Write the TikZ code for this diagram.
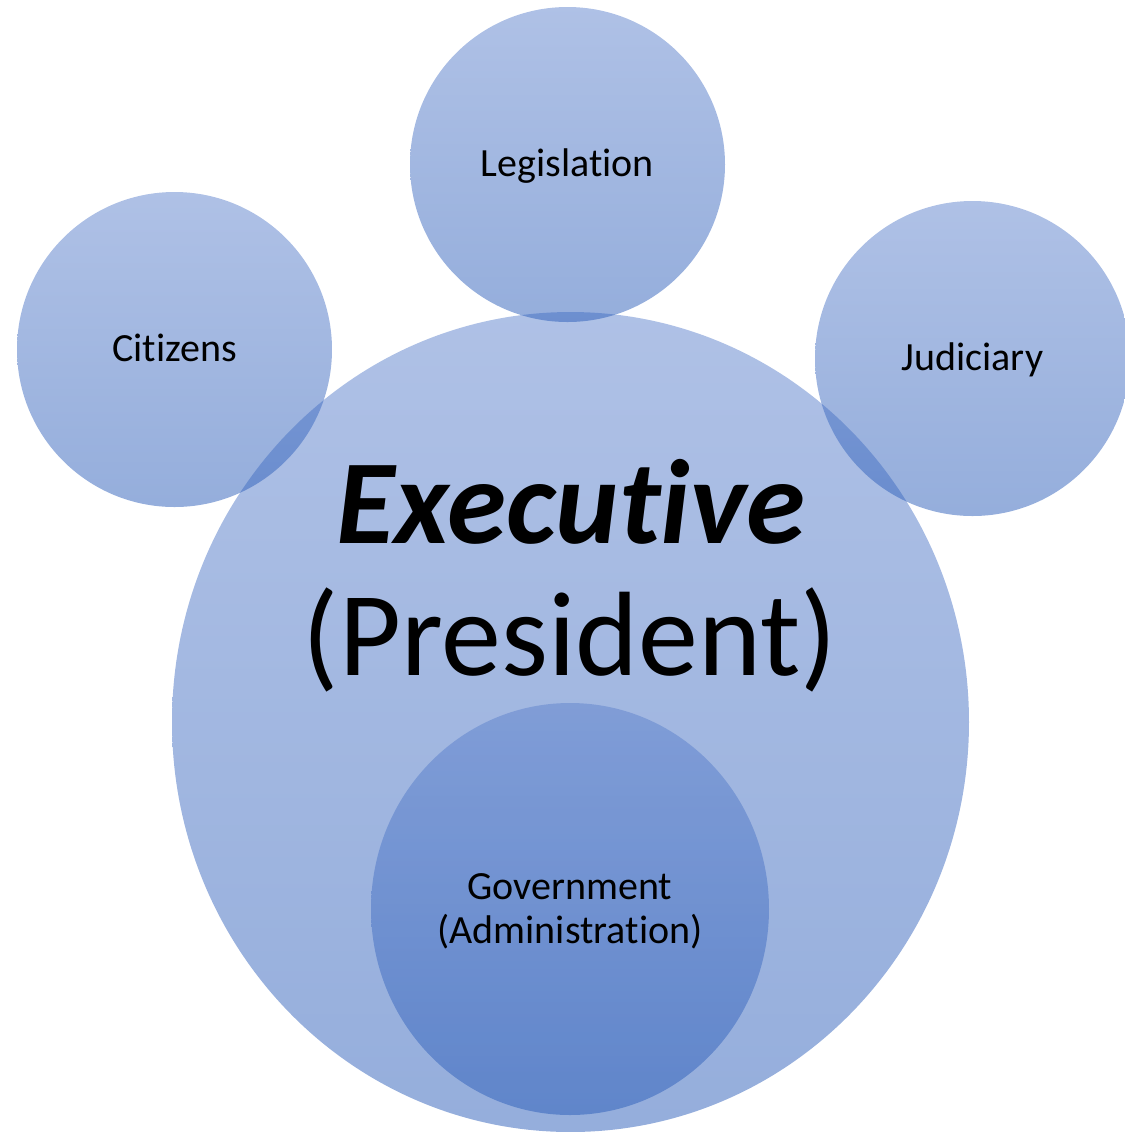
\documentclass[tikz,border=0pt]{standalone}
\usepackage{fontspec}
\setmainfont{Carlito}[Ligatures={NoCommon,NoContextual}]
\usetikzlibrary{shapes.geometric}
\definecolor{gtop}{RGB}{95,131,205}
\definecolor{gbot}{RGB}{43,93,185}
\tikzset{
  bubble/.style={ellipse, draw=none, inner sep=0pt, top color=gtop, bottom color=gbot, fill opacity=0.5},
  lbl/.style={anchor=base, inner sep=0pt, font=\fontsize{20}{24}\selectfont},
  big/.style={anchor=base, inner sep=0pt, font=\fontsize{60}{68}\selectfont}
}
\begin{document}
\begin{tikzpicture}[x=0.5pt,y=-0.5pt]
\useasboundingbox (0,0) rectangle (1125,1132);
\node[bubble, minimum width=398.5pt, minimum height=410pt] (exec) at (570.5,722) {};
\node[bubble, minimum width=157.5pt, minimum height=157.5pt] (legis) at (567.5,164.5) {};
\node[bubble, minimum width=157.5pt, minimum height=157.5pt] (citiz) at (174.5,349.5) {};
\node[bubble, minimum width=157.5pt, minimum height=157.5pt] (judic) at (972.5,358.5) {};
\node[bubble, minimum width=199pt, minimum height=206pt] (gov) at (570,909) {};
\node[lbl] (tlegis) at (567.5,176) {Legislation};
\node[lbl] (tcitiz) at (174.5,361) {Citizens};
\node[lbl] (tjudic) at (972.5,370) {Judiciary};
\node[big] (texec) at (571,543) {\textbf{\textit{Executive}}};
\node[big] (tpres) at (570,675) {(President)};
\node[lbl] (tgov1) at (570,899) {Government};
\node[lbl] (tgov2) at (570,943) {(Administration)};
\end{tikzpicture}
\end{document}
